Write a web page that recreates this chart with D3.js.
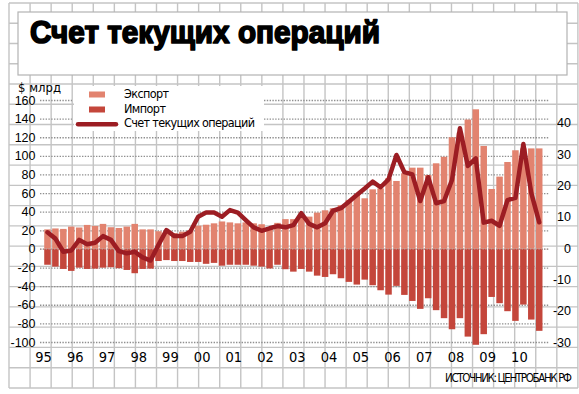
<!DOCTYPE html>
<html lang="ru">
<head>
<meta charset="utf-8">
<title>Счет текущих операций</title>
<script src="https://cdn.jsdelivr.net/npm/d3@7"></script>
<style>
  body { margin: 0; background: #fff; }
  svg { display: block; font-family: "Liberation Sans Narrow", "DejaVu Sans Condensed", "Liberation Sans", sans-serif; }
</style>
</head>
<body>
<svg id="chart" width="579" height="394"></svg>
<script>
// Квартальные данные, 1995 I кв. - 2010 III кв.
// экспорт и импорт - левая шкала ($ млрд), счет текущих операций - правая шкала
const yearLabels = ['95', '96', '97', '98', '99', '00', '01', '02', '03', '04', '05', '06', '07', '08', '09', '10'];

const exportVals = [
  21, 22, 21.5, 24,
  23, 25.8, 24.7, 26.9,
  23.3, 22.5, 24, 26.9,
  21, 21, 19, 17,
  17, 18.5, 20, 25,
  26, 27.5, 29.5, 28.5,
  27.5, 28.5, 27.5, 26.5,
  23, 28, 32, 32,
  38, 34.7, 39, 41.5,
  43.7, 47, 52.6, 58,
  54.4, 64, 65, 76,
  73, 81.3, 87.3, 87.3,
  79.5, 92, 99, 120,
  125, 139, 150, 110.6,
  64.4, 77.7, 93.4, 106,
  108, 108, 108
];

const importVals = [
  -17, -19, -21.5, -23.6,
  -20.1, -21.5, -21.2, -20.1,
  -19.7, -20.7, -22.6, -26.1,
  -21.5, -21.2, -13, -12,
  -13, -13, -14, -14,
  -16, -15, -18, -17,
  -17, -17, -18, -19,
  -21, -17, -21.8, -24.4,
  -21.5, -24.4, -28.7, -30.1,
  -27.2, -31.5, -35.4, -38.3,
  -33, -39, -44.4, -49.1,
  -39.7, -49.4, -55.9, -64.4,
  -53, -65.8, -74.4, -86.3,
  -74.4, -94.2, -103, -91.6,
  -51.6, -58.3, -66.9, -77.3,
  -59.8, -75.9, -88
];

const currentAccount = [
  5.0, 3.0, -1.2, -0.8,
  2.6, 1.2, 1.7, 3.8,
  2.6, -1.0, -1.7, -1.2,
  -3.0, -4.0, 1.0, 5.7,
  3.8, 3.8, 5.2, 10.0,
  11.3, 11.3, 10.0, 12.1,
  11.3, 8.9, 6.6, 5.5,
  6.3, 7.0, 6.6, 7.3,
  11.1, 7.7, 6.6, 7.9,
  11.9, 12.7, 14.8, 16.9,
  19.0, 21.2, 19.4, 21.9,
  29.7, 24.2, 23.5, 15.0,
  22.6, 14.3, 15.0, 21.7,
  38.2, 26.2, 28.6, 8.1,
  8.7, 7.1, 15.3, 16.0,
  33.2, 17.5, 8.2
];

const leftTicks = [160, 140, 120, 100, 80, 60, 40, 20, 0, -20, -40, -60, -80, -100];
const rightTicks = [40, 30, 20, 10, 0, -10, -20, -30];

const quarters = yearLabels
  .flatMap(y => ['I', 'II', 'III', 'IV'].map(q => y + '-' + q))
  .slice(0, exportVals.length);

const colors = {
  grid: '#c4c4c4',
  dots: '#8f8f8f',
  exp: '#e2836f',
  imp: '#c4463b',
  line: '#9c1d23'
};

const svg = d3.select('#chart');

// scales
const x = d3.scaleBand()
  .domain(quarters)
  .range([43.5, 543.2])
  .paddingInner(0.18)
  .paddingOuter(0.09);

const yL = d3.scaleLinear().domain([-100, 160]).range([342, 100]);
const yR = d3.scaleLinear().domain([-30, 40]).range([342, 122.7]);

// "миллиметровка" на фоне
const paper = svg.append('g')
  .attr('stroke', colors.grid)
  .attr('stroke-width', 1.4);

paper.selectAll('line.v')
  .data(d3.range(9, 579, 21.07))
  .join('line')
  .attr('class', 'v')
  .attr('x1', d => d).attr('x2', d => d)
  .attr('y1', 3).attr('y2', 388);

paper.selectAll('line.h')
  .data(d3.range(3, 389, 20.26))
  .join('line')
  .attr('class', 'h')
  .attr('x1', 9).attr('x2', 578)
  .attr('y1', d => d).attr('y2', d => d);

// заголовок
svg.append('rect')
  .attr('x', 18).attr('y', 12)
  .attr('width', 549).attr('height', 63)
  .attr('fill', '#fff')
  .attr('stroke', '#b3b3b3')
  .attr('stroke-width', 1.2);

svg.append('text')
  .attr('x', 30).attr('y', 43)
  .attr('textLength', 350)
  .attr('lengthAdjust', 'spacingAndGlyphs')
  .style('font-family', '"Liberation Sans", Arial, sans-serif')
  .style('font-weight', 'bold')
  .style('font-size', '32px')
  .attr('stroke', '#000')
  .attr('stroke-width', 1.7)
  .attr('stroke-linejoin', 'round')
  .attr('fill', '#000')
  .text('Счет текущих операций');

// подложка легенды
svg.append('rect')
  .attr('x', 74).attr('y', 86)
  .attr('width', 190).attr('height', 45)
  .attr('fill', '#fff');

// левая шкала с пунктирными линиями
const axisL = svg.append('g')
  .attr('transform', 'translate(40,0)')
  .call(d3.axisLeft(yL).tickValues(leftTicks).tickSizeInner(-509).tickSizeOuter(0).tickPadding(4.5));

axisL.select('.domain').remove();
axisL.selectAll('.tick line')
  .attr('stroke', colors.dots)
  .attr('stroke-width', 1.3)
  .attr('stroke-dasharray', '1.4,1.4')
  .each(function(d) {
    // пунктир не заходит под легенду
    if (d >= 140) d3.select(this).attr('x1', 224).attr('x2', 509);
  });
axisL.selectAll('.tick line').filter(d => d >= 140)
  .clone()
  .attr('x1', 0).attr('x2', 32);
axisL.selectAll('.tick text')
  .attr('fill', '#000')
  .style('font-size', '12.5px')
  .text(d => d < 0 ? '-' + Math.abs(d) : d);

// столбики
svg.append('g')
  .selectAll('rect')
  .data(quarters)
  .join('rect')
  .attr('x', d => x(d))
  .attr('width', x.bandwidth())
  .attr('y', (d, i) => yL(exportVals[i]))
  .attr('height', (d, i) => yL(0) - yL(exportVals[i]))
  .attr('fill', colors.exp);

svg.append('g')
  .selectAll('rect')
  .data(quarters)
  .join('rect')
  .attr('x', d => x(d))
  .attr('width', x.bandwidth())
  .attr('y', yL(0))
  .attr('height', (d, i) => yL(importVals[i]) - yL(0))
  .attr('fill', colors.imp);

// нулевая линия поверх столбиков
svg.append('line')
  .attr('x1', 40).attr('x2', 549)
  .attr('y1', yL(0)).attr('y2', yL(0))
  .attr('stroke', '#b9a6a2')
  .attr('stroke-width', 1.2)
  .attr('stroke-dasharray', '1.4,1.4');

// счет текущих операций
const line = d3.line()
  .x((d, i) => x(quarters[i]) + x.bandwidth() / 2)
  .y(d => yR(d));

svg.append('path')
  .datum(currentAccount)
  .attr('d', line)
  .attr('fill', 'none')
  .attr('stroke', colors.line)
  .attr('stroke-width', 4.5)
  .attr('stroke-linejoin', 'round')
  .attr('stroke-linecap', 'round');

// правая шкала
const axisR = svg.append('g')
  .attr('transform', 'translate(571,0)')
  .call(d3.axisRight(yR).tickValues(rightTicks).tickSize(0).tickPadding(0)
    .tickFormat(d => d < 0 ? '-' + Math.abs(d) : d));
axisR.select('.domain').remove();
axisR.selectAll('.tick text')
  .attr('text-anchor', 'end')
  .attr('fill', '#000')
  .style('font-size', '12.5px');

// подписи годов
svg.append('g')
  .selectAll('text')
  .data(yearLabels)
  .join('text')
  .attr('x', d => x(d + '-I') - (x.step() - x.bandwidth()) / 2)
  .attr('y', 362)
  .attr('text-anchor', 'middle')
  .style('font-size', '14.5px')
  .text(d => d);

// единицы
svg.append('text')
  .attr('x', 18).attr('y', 91.5)
  .style('font-size', '13px')
  .text('$ млрд');

// легенда
const legend = svg.append('g').style('font-size', '12.5px');
legend.append('rect')
  .attr('x', 89).attr('y', 91.5).attr('width', 16).attr('height', 6)
  .attr('fill', colors.exp);
legend.append('text')
  .attr('x', 124).attr('y', 97.7)
  .attr('textLength', 45)
  .text('Экспорт');
legend.append('rect')
  .attr('x', 89).attr('y', 106.5).attr('width', 16).attr('height', 6)
  .attr('fill', colors.imp);
legend.append('text')
  .attr('x', 124).attr('y', 112.5)
  .attr('textLength', 42)
  .text('Импорт');
legend.append('line')
  .attr('x1', 78).attr('x2', 116)
  .attr('y1', 124.3).attr('y2', 124.3)
  .attr('stroke', colors.line)
  .attr('stroke-width', 4.5)
  .attr('stroke-linecap', 'round');
legend.append('text')
  .attr('x', 124).attr('y', 127)
  .attr('textLength', 131)
  .text('Счет текущих операций');

// источник
svg.append('text')
  .attr('x', 572).attr('y', 382)
  .attr('text-anchor', 'end')
  .attr('textLength', 127)
  .style('font-size', '11.5px')
  .text('ИСТОЧНИК: ЦЕНТРОБАНК РФ');
</script>
</body>
</html>
